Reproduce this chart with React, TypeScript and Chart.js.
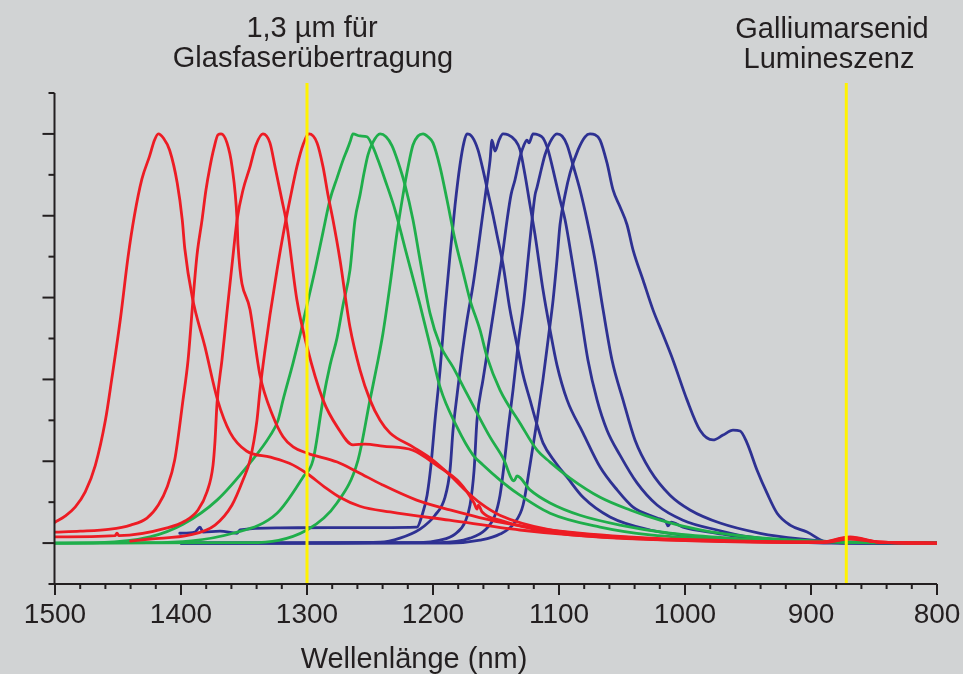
import React, { useEffect, useRef } from 'react';
import { Chart, registerables } from 'chart.js';

Chart.register(...registerables);

type Pt = [number, number];

// wavelength (nm), relative intensity
const red1: Pt[] = [
  [1500, 0.051], [1492, 0.066], [1484, 0.088], [1476, 0.125], [1468, 0.19], [1460, 0.30], [1455, 0.40],
  [1448, 0.55], [1442, 0.70], [1437, 0.80], [1431, 0.89], [1425, 0.945], [1421, 0.985], [1418, 1.0],
  [1414, 0.99], [1409, 0.96], [1403, 0.88], [1399, 0.79], [1397, 0.72], [1391, 0.60], [1381, 0.48],
  [1371, 0.35], [1361, 0.27], [1348, 0.225], [1329, 0.21], [1314, 0.195], [1300, 0.17], [1286, 0.137],
  [1274, 0.112], [1258, 0.09], [1234, 0.076], [1187, 0.056], [1131, 0.032], [1067, 0.015], [988, 0.005],
  [909, 0.002], [887, 0.002], [869, 0.012], [845, 0.002], [800, 0],
];
const red2: Pt[] = [
  [1500, 0.027], [1480, 0.029], [1456, 0.034], [1440, 0.044], [1427, 0.061], [1418, 0.093], [1411, 0.137],
  [1405, 0.203], [1398.4, 0.35], [1394.4, 0.447], [1390.5, 0.594], [1387.3, 0.704], [1383.3, 0.79],
  [1380.2, 0.863], [1377, 0.92], [1373.8, 0.966], [1370.6, 0.998], [1368.2, 1.0], [1363.5, 0.978],
  [1359.5, 0.92], [1355.5, 0.79], [1354.8, 0.73], [1345.2, 0.57], [1337.3, 0.41], [1327, 0.31],
  [1319, 0.26], [1311, 0.235], [1300, 0.22], [1276, 0.198], [1260, 0.174], [1240, 0.142], [1213, 0.105],
  [1186.5, 0.081], [1147, 0.051], [1099, 0.029], [1028, 0.012], [948, 0.005], [893, 0.002], [869, 0.01],
  [845, 0.002], [800, 0],
];
const red3: Pt[] = [
  [1500, 0.015], [1452.4, 0.018], [1450.8, 0.024], [1449.2, 0.018], [1411, 0.037], [1396.8, 0.054],
  [1386.5, 0.081], [1379.4, 0.125], [1374.6, 0.19], [1373, 0.25], [1371.4, 0.342], [1367.5, 0.447],
  [1363.5, 0.565], [1359.5, 0.68], [1355.5, 0.79], [1350.8, 0.863], [1345.2, 0.92], [1340.5, 0.973],
  [1335, 1.0], [1329.4, 0.978], [1325.4, 0.92], [1320, 0.84], [1316, 0.778], [1308, 0.594], [1300, 0.48],
  [1287.3, 0.35], [1276, 0.284], [1263.5, 0.24], [1254, 0.242], [1240, 0.237], [1216, 0.227],
  [1197, 0.19], [1178.6, 0.147], [1167.4, 0.098], [1165, 0.083], [1164, 0.093], [1161, 0.076],
  [1147, 0.056], [1107, 0.027], [1052, 0.012], [972, 0.005], [893, 0.002], [869, 0.013], [845, 0.002],
  [800, 0],
];
const red4: Pt[] = [
  [1440, 0.005], [1424.6, 0.01], [1392.9, 0.02], [1373, 0.044], [1359.5, 0.093], [1350.8, 0.154],
  [1345.2, 0.203], [1339.7, 0.30], [1337.3, 0.374], [1333.3, 0.472], [1329.4, 0.557], [1323.8, 0.667],
  [1319, 0.753], [1313.5, 0.84], [1308, 0.92], [1303.2, 0.973], [1298.4, 1.0], [1292, 0.978],
  [1287.3, 0.92], [1283.3, 0.85], [1279.4, 0.79], [1273.8, 0.692], [1265.9, 0.528], [1257.9, 0.423],
  [1250, 0.35], [1242, 0.30], [1234.1, 0.269], [1216, 0.235], [1202.4, 0.208], [1186.5, 0.166],
  [1174.6, 0.13], [1162.7, 0.098], [1147, 0.068], [1107, 0.032], [1052, 0.015], [972, 0.005],
  [893, 0.002], [869, 0.015], [845, 0.002], [800, 0],
];
const green1: Pt[] = [
  [1500, 0], [1464.3, 0.001], [1424.6, 0.015], [1398.4, 0.046], [1371.4, 0.105], [1345.2, 0.196],
  [1329.4, 0.262], [1323, 0.30], [1319, 0.35], [1311.1, 0.44], [1305.5, 0.509], [1300, 0.582],
  [1293.6, 0.668], [1287.3, 0.76], [1281.7, 0.84], [1276.2, 0.892], [1271.4, 0.936], [1268.2, 0.961],
  [1265.9, 0.98], [1263.5, 1.0], [1257.9, 0.995], [1252.4, 0.993], [1248.4, 0.973], [1243.6, 0.936],
  [1238.1, 0.888], [1230.1, 0.814], [1222.2, 0.721], [1210.3, 0.582], [1202.4, 0.484], [1194.4, 0.381],
  [1181, 0.284], [1168.2, 0.215], [1160.3, 0.191], [1146.8, 0.154], [1133.3, 0.122], [1107.1, 0.073],
  [1067.4, 0.039], [1027.7, 0.02], [948.4, 0.007], [869, 0.002], [800, 0],
];
const green2: Pt[] = [
  [1500, 0], [1424.6, 0.001], [1358.7, 0.024], [1323.8, 0.073], [1303.2, 0.161], [1295.2, 0.203],
  [1287.3, 0.35], [1281.7, 0.435], [1276.2, 0.501], [1271.4, 0.582], [1265.9, 0.667], [1261.9, 0.79],
  [1257.9, 0.851], [1254.7, 0.905], [1251.6, 0.949], [1247.6, 0.98], [1242, 1.0], [1237.3, 0.993],
  [1232.5, 0.971], [1227.8, 0.932], [1222.2, 0.875], [1215.9, 0.79], [1210.3, 0.692], [1202.4, 0.562],
  [1194.4, 0.484], [1184.1, 0.43], [1174.6, 0.374], [1165.1, 0.318], [1154.7, 0.259], [1144.4, 0.208],
  [1135.7, 0.152], [1133.3, 0.164], [1123, 0.13], [1107.1, 0.098], [1083.3, 0.068], [1051.6, 0.044],
  [1011.9, 0.024], [964.3, 0.012], [908.7, 0.005], [800, 0],
];
const green3: Pt[] = [
  [1500, 0], [1345.2, 0.001], [1300, 0.032], [1276.2, 0.098], [1259.5, 0.203], [1250, 0.35],
  [1244.4, 0.435], [1239.7, 0.513], [1234.1, 0.631], [1228.6, 0.758], [1223.8, 0.851], [1219.8, 0.919],
  [1215.9, 0.973], [1211.9, 0.995], [1207.9, 1.0], [1204, 0.993], [1200, 0.978], [1194.4, 0.919],
  [1188.9, 0.839], [1182.5, 0.741], [1176.2, 0.663], [1170.6, 0.594], [1162.7, 0.521], [1157.1, 0.455],
  [1146.8, 0.374], [1130.9, 0.293], [1117.4, 0.227], [1107.1, 0.198], [1091.3, 0.159], [1067.4, 0.112],
  [1043.6, 0.081], [1019.8, 0.056], [988.1, 0.032], [948.4, 0.015], [908.7, 0.007], [869, 0.002], [800, 0],
];
const blue1: Pt[] = [
  [1401, 0.024], [1389, 0.027], [1385, 0.039], [1382.5, 0.027], [1369, 0.029], [1355.5, 0.024],
  [1353.2, 0.032], [1321.4, 0.037], [1281.7, 0.038], [1242, 0.038], [1212.7, 0.039], [1208.7, 0.068],
  [1204.7, 0.117], [1201.6, 0.191], [1198.4, 0.30], [1194.4, 0.423], [1190.5, 0.57], [1186.5, 0.704],
  [1182.5, 0.826], [1178.6, 0.924], [1175.4, 0.98], [1173, 1.0], [1169, 0.993],
  [1164.3, 0.961], [1160.3, 0.912], [1156.3, 0.856], [1152.4, 0.802], [1149.2, 0.753], [1144.4, 0.68],
  [1138.9, 0.57], [1133.3, 0.484], [1128.5, 0.411], [1123, 0.35], [1117.4, 0.289], [1112.7, 0.245],
  [1103.1, 0.198], [1093.6, 0.161], [1080.9, 0.112], [1059.5, 0.064], [1027.7, 0.032], [988.1, 0.015],
  [948.4, 0.007], [884.9, 0], [800, 0],
];
const blue2: Pt[] = [
  [1400, 0], [1305.5, 0], [1242, 0.002], [1226.2, 0.012], [1210.3, 0.034], [1198.4, 0.068],
  [1190.5, 0.112], [1186.5, 0.178], [1184.1, 0.276], [1180.9, 0.362], [1177, 0.46], [1173, 0.545],
  [1168.2, 0.631], [1164.3, 0.716], [1161.1, 0.79], [1157.9, 0.863], [1154.7, 0.936], [1153.2, 0.985],
  [1150.8, 0.958], [1147.6, 0.985], [1144.4, 1.0], [1140.5, 0.998], [1134.9, 0.985], [1130.9, 0.961],
  [1127, 0.90], [1123, 0.826], [1119, 0.753], [1112.7, 0.619], [1107.1, 0.521], [1101.6, 0.435],
  [1093.6, 0.35], [1080.9, 0.269], [1067.4, 0.186], [1053.9, 0.13], [1041.2, 0.088], [1022.2, 0.061],
  [1015, 0.051], [1013.5, 0.042], [1011.1, 0.051], [1001.6, 0.039], [974.6, 0.024], [948.4, 0.012],
  [884.9, 0.002], [800, 0],
];
const blue3: Pt[] = [
  [1400, 0], [1210.3, 0.001], [1194.4, 0.007], [1182.5, 0.022], [1174.6, 0.051], [1170.6, 0.093],
  [1167.4, 0.178], [1165.1, 0.30], [1160.3, 0.40], [1154.7, 0.509], [1149.2, 0.619], [1144.4, 0.716],
  [1141.2, 0.79], [1138.1, 0.851], [1134.9, 0.888], [1130.9, 0.944], [1127.8, 0.973], [1125.4, 0.985],
  [1123.8, 0.978], [1120.6, 1.0], [1116.6, 0.998], [1112.7, 0.99], [1108.7, 0.961], [1104.7, 0.912],
  [1099.2, 0.839], [1095.2, 0.79], [1089.7, 0.692], [1083.3, 0.57], [1077, 0.447], [1069.8, 0.35],
  [1061.9, 0.276], [1051.6, 0.215], [1038.1, 0.147], [1022.2, 0.093], [1001.6, 0.056], [974.6, 0.032],
  [948.4, 0.015], [884.9, 0.002], [800, 0],
];
const blue4: Pt[] = [
  [1400, 0], [1194.4, 0.001], [1170.6, 0.012], [1158.7, 0.032], [1150.8, 0.068], [1146.8, 0.117],
  [1143.6, 0.191], [1140.5, 0.276], [1136.5, 0.374], [1132.5, 0.484], [1127.8, 0.594], [1124.6, 0.692],
  [1121.4, 0.79], [1119, 0.851], [1117.4, 0.87], [1115.1, 0.90], [1111.1, 0.949], [1107.1, 0.98],
  [1101.6, 1.0], [1097.6, 0.995], [1093.6, 0.973], [1088.9, 0.924], [1083.3, 0.863], [1077.8, 0.79],
  [1071.4, 0.692], [1065, 0.57], [1057.9, 0.447], [1049.2, 0.35], [1039.7, 0.252], [1027.7, 0.178],
  [1011.9, 0.117], [996, 0.081], [972.2, 0.049], [940.4, 0.024], [908.7, 0.01], [877, 0.002], [800, 0],
];
const blue5: Pt[] = [
  [1400, 0], [1186.5, 0], [1162.7, 0.007], [1146.8, 0.022], [1134.9, 0.051], [1128.5, 0.093],
  [1123, 0.191], [1117.4, 0.30], [1112.7, 0.40], [1108.7, 0.496], [1104.7, 0.594], [1101.6, 0.692],
  [1099.2, 0.778], [1095.2, 0.851], [1091.2, 0.905], [1084.9, 0.961], [1079.3, 0.993], [1075.4, 1.0],
  [1071.4, 0.998], [1067.4, 0.985], [1061.9, 0.929], [1057.1, 0.863], [1051.6, 0.822], [1046, 0.778],
  [1041.2, 0.716], [1033.3, 0.643], [1025.4, 0.57], [1017.4, 0.509], [1009.5, 0.447], [998.4, 0.35],
  [988.1, 0.276], [977.7, 0.252], [969.8, 0.264], [961.9, 0.276], [956.3, 0.274], [950.8, 0.245],
  [942.8, 0.178], [934.9, 0.122], [926.9, 0.073], [916.6, 0.044], [903.1, 0.027], [887.3, 0.002],
  [869, 0], [800, 0],
];

const xTickValues = [1500, 1400, 1300, 1200, 1100, 1000, 900, 800];
const markerLines = [1300, 872];
const annotationLeft = ['1,3 µm für', 'Glasfaserübertragung'];
const annotationRight = ['Galliumarsenid', 'Lumineszenz'];
const axisTitle = 'Wellenlänge (nm)';

const RED = '#ed1c24';
const GREEN = '#1fae4b';
const BLUE = '#2e3192';
const BG = '#d1d3d4';
const INK = '#231f20';
const YELLOW = '#fff200';
const FONT = '"Liberation Sans", Arial, Helvetica, sans-serif';

const seriesList: { data: Pt[]; color: string }[] = [
  { data: red1, color: RED },
  { data: red2, color: RED },
  { data: red3, color: RED },
  { data: red4, color: RED },
  { data: green1, color: GREEN },
  { data: green2, color: GREEN },
  { data: green3, color: GREEN },
  { data: blue1, color: BLUE },
  { data: blue2, color: BLUE },
  { data: blue3, color: BLUE },
  { data: blue4, color: BLUE },
  { data: blue5, color: BLUE },
];

const decoPlugin = {
  id: 'deco',
  beforeDraw(chart: any) {
    const ctx = chart.ctx;
    ctx.save();
    ctx.fillStyle = BG;
    ctx.fillRect(0, 0, chart.width, chart.height);
    ctx.restore();
  },
  afterDatasetsDraw(chart: any) {
    const ctx = chart.ctx;
    const xs = chart.scales.x;
    const { top, bottom } = chart.chartArea;
    ctx.save();
    ctx.strokeStyle = YELLOW;
    ctx.lineWidth = 3;
    markerLines.forEach((v) => {
      const x = xs.getPixelForValue(v);
      ctx.beginPath();
      ctx.moveTo(x, top - 10);
      ctx.lineTo(x, bottom);
      ctx.stroke();
    });
    ctx.restore();
  },
  afterDraw(chart: any) {
    const ctx = chart.ctx;
    const xs = chart.scales.x;
    const ys = chart.scales.y;
    const { left, right, top, bottom } = chart.chartArea;
    ctx.save();
    ctx.strokeStyle = INK;
    ctx.lineWidth = 2;
    ctx.lineCap = 'butt';
    ctx.beginPath();
    ctx.moveTo(left - 0.5, top);
    ctx.lineTo(left - 0.5, bottom + 1);
    ctx.moveTo(left - 6, bottom);
    ctx.lineTo(right, bottom);
    ctx.stroke();
    for (let i = -1; i <= 11; i++) {
      const y = ys.getPixelForValue(i / 10);
      const len = i >= 0 && i <= 10 && i % 2 === 0 ? 12 : 6;
      ctx.beginPath();
      ctx.moveTo(left - 0.5 - len, y);
      ctx.lineTo(left - 0.5, y);
      ctx.stroke();
    }
    for (let v = 800; v <= 1500; v += 20) {
      const x = xs.getPixelForValue(v);
      const len = v % 100 === 0 ? 11 : 5;
      ctx.beginPath();
      ctx.moveTo(x, bottom);
      ctx.lineTo(x, bottom + len);
      ctx.stroke();
    }
    ctx.fillStyle = INK;
    ctx.textAlign = 'center';
    ctx.textBaseline = 'alphabetic';
    ctx.font = `29px ${FONT}`;
    ctx.fillText(annotationLeft[0], 312, 37);
    ctx.fillText(annotationLeft[1], 313, 67);
    ctx.fillText(annotationRight[0], 832, 38);
    ctx.fillText(annotationRight[1], 829, 68);
    ctx.fillText(axisTitle, 414, 668);
    ctx.restore();
  },
};

export default function App() {
  const ref = useRef<HTMLCanvasElement>(null);
  useEffect(() => {
    if (!ref.current) return;
    const chart = new Chart(ref.current, {
      type: 'line',
      data: {
        datasets: seriesList.map((s) => ({
          data: s.data.map(([x, y]) => ({ x, y })),
          borderColor: s.color,
          backgroundColor: s.color,
          borderWidth: 2.8,
          pointRadius: 0,
          fill: false,
          cubicInterpolationMode: 'monotone' as const,
        })),
      },
      options: {
        responsive: false,
        animation: false,
        devicePixelRatio: 1,
        layout: { padding: { left: 55, right: 26, top: 93, bottom: 0 } },
        plugins: { legend: { display: false }, tooltip: { enabled: false } },
        elements: { line: { borderCapStyle: 'round', borderJoinStyle: 'round' } },
        scales: {
          x: {
            type: 'linear',
            reverse: true,
            min: 800,
            max: 1500,
            afterFit: (s: any) => {
              s.height = 90;
              s.paddingLeft = 0;
              s.paddingRight = 0;
            },
            afterBuildTicks: (s: any) => {
              s.ticks = xTickValues.map((v) => ({ value: v }));
            },
            grid: { display: false, drawTicks: false },
            border: { display: false },
            ticks: {
              padding: 14,
              color: INK,
              font: { family: FONT, size: 28 },
              maxRotation: 0,
              autoSkip: false,
              callback: (v: any) => String(v),
            },
          },
          y: { display: false, min: -0.1, max: 1.1 },
        },
      },
      plugins: [decoPlugin],
    } as any);
    return () => chart.destroy();
  }, []);
  return (
    <div style={{ position: 'fixed', left: 0, top: 0, width: 963, height: 674, background: BG }}>
      <canvas ref={ref} width={963} height={674} style={{ display: 'block', width: 963, height: 674 }} />
    </div>
  );
}
